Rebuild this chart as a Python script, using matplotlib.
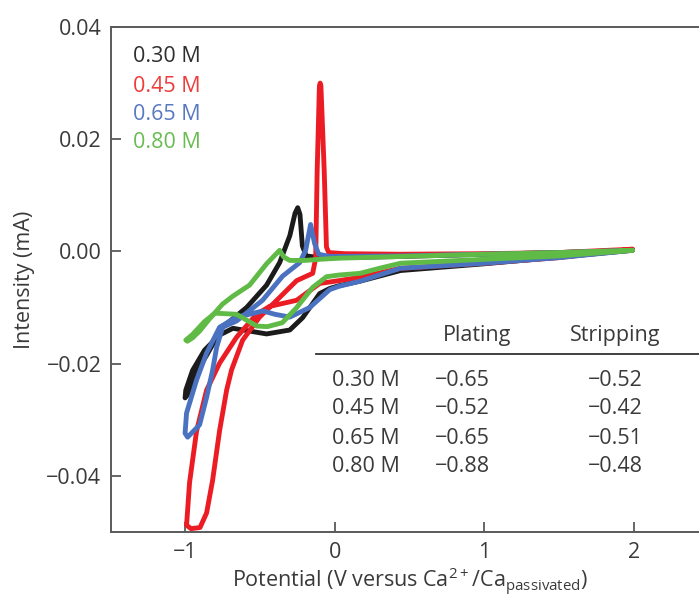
import matplotlib
matplotlib.use("Agg")
import matplotlib.pyplot as plt

plt.rcParams['font.family'] = ['Open Sans', 'DejaVu Sans']
plt.rcParams['mathtext.fontset'] = 'custom'
plt.rcParams['mathtext.rm'] = 'Open Sans'
plt.rcParams['mathtext.default'] = 'regular'

# ---------------- data ----------------
concentrations = ["0.30 M", "0.45 M", "0.65 M", "0.80 M"]
series_colors = ["#1b1b1b", "#ec1c24", "#4a72c0", "#5fba46"]
label_colors = ["#2e2e2e", "#ee3b3b", "#5878c2", "#68bd52"]

pot_030 = [1.99, 1.5, 1.0, 0.44, 0.17, 0.03, -0.033, -0.10, -0.214, -0.30, -0.455, -0.589, -0.68,
           -0.77, -0.87, -0.95, -0.995, -1.0, -0.985, -0.936, -0.856, -0.75, -0.589, -0.455,
           -0.368, -0.30, -0.265, -0.247, -0.232, -0.216, -0.19, -0.10, 0.03, 0.44, 1.0, 1.5, 1.99]
cur_030 = [0.0002, -0.0010, -0.0022, -0.0034, -0.0053, -0.0061, -0.0066, -0.0075, -0.0118, -0.0140,
           -0.0147, -0.0141, -0.0137, -0.0149, -0.0176, -0.0212, -0.0247, -0.0261, -0.0256, -0.0220,
           -0.0185, -0.0135, -0.0100, -0.0060, -0.0020, 0.0028, 0.0068, 0.0078, 0.0066, 0.0010,
           -0.0008, -0.0011, -0.0011, -0.0009, -0.0005, -0.0002, 0.0002]

pot_045 = [1.99, 1.5, 1.0, 0.44, 0.17, 0.03, -0.10, -0.254, -0.435, -0.522, -0.656, -0.769,
           -0.856, -0.923, -0.97, -0.99, -0.96, -0.90, -0.856, -0.816, -0.769, -0.722, -0.689,
           -0.615, -0.502, -0.368, -0.254, -0.147, -0.127, -0.117, -0.102, -0.097, -0.092, -0.07,
           -0.055, -0.04, 0.067, 0.435, 1.0, 1.5, 1.99]
cur_045 = [0.0004, -0.0011, -0.0021, -0.0030, -0.0046, -0.0052, -0.0057, -0.0087, -0.0098, -0.0112,
           -0.0153, -0.0199, -0.0247, -0.0320, -0.0412, -0.0488, -0.0494, -0.0492, -0.0466, -0.0408,
           -0.0319, -0.0247, -0.0211, -0.0158, -0.0117, -0.0082, -0.0052, -0.0039, -0.0012, 0.0144,
           0.0295, 0.0300, 0.0295, 0.0144, 0.0008, -0.0002, -0.0004, -0.0005, -0.0004, -0.0002,
           0.0004]

pot_065 = [1.99, 1.5, 1.0, 0.44, 0.17, 0.03, -0.033, -0.167, -0.30, -0.40, -0.48, -0.57, -0.656,
           -0.769, -0.856, -0.923, -0.99, -1.0, -0.983, -0.903, -0.856, -0.816, -0.789, -0.749,
           -0.656, -0.482, -0.348, -0.234, -0.194, -0.161, -0.134, -0.107, -0.033, 0.44, 1.0, 1.5,
           1.99]
cur_065 = [0.0002, -0.0011, -0.0021, -0.0030, -0.0053, -0.0062, -0.0068, -0.0100, -0.0117, -0.0112,
           -0.0106, -0.0112, -0.0117, -0.0135, -0.0181, -0.0229, -0.0288, -0.0324, -0.0331, -0.0309,
           -0.0260, -0.0212, -0.0171, -0.0135, -0.0124, -0.0087, -0.0044, -0.0020, 0.0002, 0.0048,
           0.0014, -0.0005, -0.0009, -0.0008, -0.0005, -0.0002, 0.0002]

pot_080 = [1.99, 1.5, 1.0, 0.44, 0.30, 0.17, 0.03, -0.054, -0.147, -0.254, -0.35, -0.45, -0.52,
           -0.656, -0.80, -0.87, -0.95, -0.995, -0.985, -0.95, -0.903, -0.836, -0.75, -0.682,
           -0.569, -0.455, -0.368, -0.34, -0.30, -0.20, -0.10, 0.03, 0.44, 1.0, 1.5, 1.99]
cur_080 = [0.0002, -0.0008, -0.0014, -0.0021, -0.0030, -0.0039, -0.0042, -0.0045, -0.0064, -0.0100,
           -0.0127, -0.0134, -0.0133, -0.0112, -0.0110, -0.0125, -0.0148, -0.0158, -0.0160, -0.0154,
           -0.0142, -0.0120, -0.0094, -0.0080, -0.0060, -0.0022, 0.0002, -0.0010, -0.0016, -0.0016,
           -0.0014, -0.0012, -0.0009, -0.0005, -0.0002, 0.0002]

table_header = ["Plating", "Stripping"]
plating = ["\u22120.65", "\u22120.52", "\u22120.65", "\u22120.88"]
stripping = ["\u22120.52", "\u22120.42", "\u22120.51", "\u22120.48"]

x_ticks = [-1, 0, 1, 2]
y_ticks = [-0.04, -0.02, 0.00, 0.02, 0.04]
y_ticklabels = ["\u22120.04", "\u22120.02", "0.00", "0.02", "0.04"]
x_ticklabels = ["\u22121", "0", "1", "2"]

# ---------------- figure ----------------
W, H = 699, 597
FS = 15.5
fig = plt.figure(figsize=(W / 100, H / 100), dpi=100)
ax = fig.add_axes([111 / W, 1 - 532 / H, 588 / W, 505 / H])

curves = [(pot_030, cur_030), (pot_045, cur_045), (pot_065, cur_065), (pot_080, cur_080)]
for (p, c), col, lab in zip(curves, series_colors, concentrations):
    ax.plot(p, c, color=col, lw=3.5, solid_joinstyle='round', solid_capstyle='round', label=lab)

ax.set_xlim(-1.495, 2.435)
ax.set_ylim(-0.0500, 0.04)
ax.set_xticks(x_ticks)
ax.set_xticklabels(x_ticklabels)
ax.set_yticks(y_ticks)
ax.set_yticklabels(y_ticklabels)

spine_col = "#5a5a5a"
for s in ['left', 'bottom', 'top']:
    ax.spines[s].set_color(spine_col)
    ax.spines[s].set_linewidth(1.4)
ax.spines['right'].set_visible(False)
ax.tick_params(direction='in', length=7, width=1.3, color=spine_col,
               labelsize=FS, labelcolor="#3a3a3a")
ax.tick_params(axis='y', pad=7)
ax.tick_params(axis='x', pad=7)

ax.set_ylabel("Intensity (mA)", fontsize=FS, color="#3a3a3a")
ax.yaxis.set_label_coords((25 - 111) / 588, 0.5)
ax.yaxis.label.set_va('center')
ax.set_xlabel("Potential (V versus Ca$^{2+}$/Ca$_{passivated}$)", fontsize=FS, color="#3a3a3a")
ax.xaxis.label.set_va('baseline')
ax.xaxis.set_label_coords((410 - 111) / 588, (532 - 587) / 505)

# legend as coloured text
leg_y = [57, 86, 114, 143]
for txt, col, py in zip(concentrations, label_colors, leg_y):
    ax.text((133 - 111) / 588, (532 - py) / 505, txt, transform=ax.transAxes,
            color=col, fontsize=FS, ha='left', va='center')

# inset table
def fx(px):
    return (px - 111) / 588

def fy(py):
    return (532 - py) / 505

tc = "#3a3a3a"
ax.text(fx(477), fy(335), table_header[0], transform=ax.transAxes, fontsize=FS, color=tc,
        ha='center', va='center')
ax.text(fx(615), fy(335), table_header[1], transform=ax.transAxes, fontsize=FS, color=tc,
        ha='center', va='center')
ax.plot([fx(316), 1.0], [fy(354), fy(354)], transform=ax.transAxes, color="#333333",
        lw=1.3, clip_on=False)
row_y = [380, 409, 438, 466]
for conc, pl, st, py in zip(concentrations, plating, stripping, row_y):
    ax.text(fx(332), fy(py), conc, transform=ax.transAxes, fontsize=FS, color=tc,
            ha='left', va='center')
    ax.text(fx(435), fy(py), pl, transform=ax.transAxes, fontsize=FS, color=tc,
            ha='left', va='center')
    ax.text(fx(643), fy(py), st, transform=ax.transAxes, fontsize=FS, color=tc,
            ha='right', va='center')

fig.savefig("out.png", dpi=100)
